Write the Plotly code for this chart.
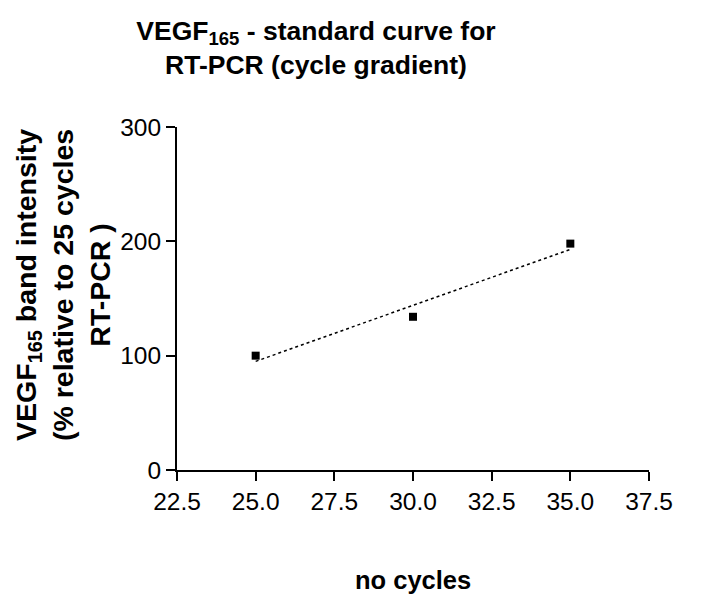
import numpy as np
import plotly.graph_objects as go

cycles = [25, 30, 35]
intensity = [100, 134, 198]
x_ticks = [22.5, 25.0, 27.5, 30.0, 32.5, 35.0, 37.5]
y_ticks = [0, 100, 200, 300]

slope, intercept = np.polyfit(cycles, intensity, 1)
fit_x = [min(cycles), max(cycles)]
fit_y = [slope * v + intercept for v in fit_x]

L, R, T, B = 177, 68, 127, 124
W, H = 717, 594
pw = W - L - R
ph = H - T - B

fig = go.Figure()
fig.add_trace(go.Scatter(x=fit_x, y=fit_y, mode="lines",
                         line=dict(color="black", width=1.5, dash="dot"),
                         showlegend=False, hoverinfo="skip"))
fig.add_trace(go.Scatter(x=cycles, y=intensity, mode="markers",
                         marker=dict(symbol="square", size=8, color="black"),
                         showlegend=False))

fig.update_layout(
    width=W, height=H,
    margin=dict(l=L, r=R, t=T, b=B),
    paper_bgcolor="white", plot_bgcolor="white",
    font=dict(family="Liberation Sans, Arial, sans-serif", color="black", size=24),
    title=dict(text="<b>VEGF<sub>165</sub> - standard curve for<br>RT-PCR (cycle gradient)</b>",
               font=dict(family="Liberation Sans, Arial", size=26.5, color="black"),
               x=316 / W, xanchor="center", xref="container",
               y=0.933, yanchor="top", yref="container"),
    xaxis=dict(range=[22.5, 37.5], tickvals=x_ticks, ticktext=[f"{v:.1f}" for v in x_ticks],
               showgrid=False, zeroline=False, showline=True, linecolor="black", linewidth=2,
               ticks="outside", ticklen=9, tickwidth=2, tickcolor="black",
               tickfont=dict(size=24.5)),
    yaxis=dict(range=[0, 300], tickvals=y_ticks,
               showgrid=False, zeroline=False, showline=True, linecolor="black", linewidth=2,
               ticks="outside", ticklen=9, tickwidth=2, tickcolor="black",
               tickfont=dict(size=24.5)),
    annotations=[
        dict(text="<b>no cycles</b>", x=0.5, xref="paper",
             y=(H - B - 580) / ph, yref="paper",
             showarrow=False, font=dict(size=25.5), xanchor="center", yanchor="middle"),
        dict(text="<b>VEGF<sub>165</sub> band intensity<br>(% relative to 25 cycles<br>RT-PCR )</b>",
             x=(63 - L) / pw, xref="paper", y=(H - B - 285) / ph, yref="paper",
             showarrow=False, textangle=-90, font=dict(size=28.5),
             xanchor="center", yanchor="middle"),
    ],
)
fig.write_html("out.html")
